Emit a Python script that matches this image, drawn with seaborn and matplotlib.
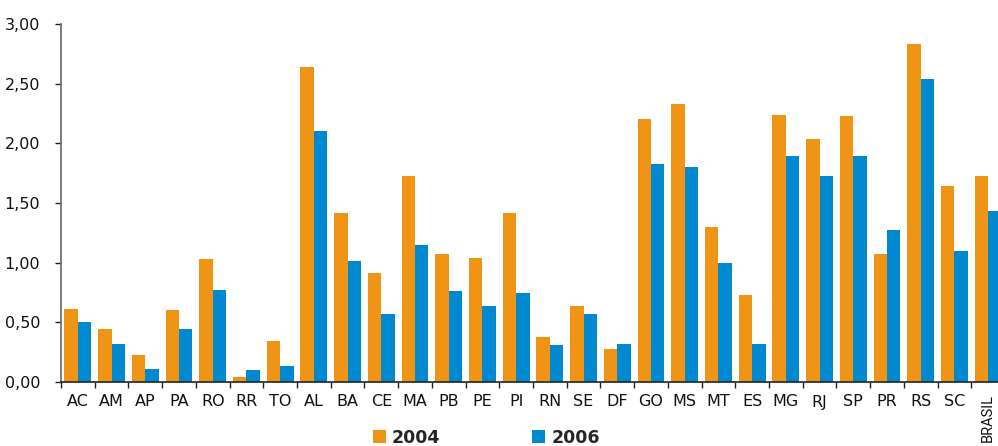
import matplotlib
matplotlib.use("Agg")
import matplotlib.pyplot as plt
from matplotlib.ticker import FixedLocator, FuncFormatter
import pandas as pd
import seaborn as sns

# Unidades da federação e Brasil
ufs = ["AC", "AM", "AP", "PA", "RO", "RR", "TO", "AL", "BA", "CE", "MA", "PB",
       "PE", "PI", "RN", "SE", "DF", "GO", "MS", "MT", "ES", "MG", "RJ", "SP",
       "PR", "RS", "SC", "BRASIL"]
anos = ["2004", "2006"]
valores_2004 = [0.61, 0.44, 0.23, 0.60, 1.03, 0.04, 0.34, 2.64, 1.42, 0.91,
                1.73, 1.07, 1.04, 1.42, 0.38, 0.64, 0.28, 2.20, 2.33, 1.30,
                0.73, 2.24, 2.04, 2.23, 1.07, 2.83, 1.64, 1.73]
valores_2006 = [0.50, 0.32, 0.11, 0.44, 0.77, 0.10, 0.13, 2.10, 1.01, 0.57,
                1.15, 0.76, 0.64, 0.75, 0.31, 0.57, 0.32, 1.83, 1.80, 1.00,
                0.32, 1.89, 1.73, 1.89, 1.27, 2.54, 1.10, 1.43]
y_ticks = [0.0, 0.5, 1.0, 1.5, 2.0, 2.5, 3.0]

cores = {"2004": "#F09416", "2006": "#0089D0"}

df = pd.DataFrame({
    "uf": ufs * 2,
    "ano": [anos[0]] * len(ufs) + [anos[1]] * len(ufs),
    "valor": valores_2004 + valores_2006,
})

sns.set_theme(style="white")
plt.rcParams["font.family"] = ["DejaVu Sans"]

fig = plt.figure(figsize=(9.98, 4.46), dpi=100)
ax = fig.add_axes([61 / 998, 64 / 446, 944 / 998, 358 / 446])

sns.barplot(data=df, x="uf", y="valor", hue="ano", order=ufs,
            hue_order=anos, palette=cores, width=0.8, saturation=1,
            linewidth=0, ax=ax)

ax.set_xlim(-0.5, len(ufs) - 0.5)
ax.set_ylim(0, 3.0)
ax.set_xlabel("")
ax.set_ylabel("")

# Eixo y com vírgula decimal
ax.yaxis.set_major_locator(FixedLocator(y_ticks))
ax.yaxis.set_major_formatter(FuncFormatter(lambda v, _: f"{v:.2f}".replace(".", ",")))
ax.tick_params(axis="y", which="major", direction="out", length=4, width=1,
               color="#222222", pad=11, labelsize=11.5, labelcolor="#111111",
               left=True)

# Marcas do eixo x entre as categorias
ax.xaxis.set_minor_locator(FixedLocator([i - 0.5 for i in range(len(ufs))]))
ax.tick_params(axis="x", which="minor", direction="out", length=4, width=1,
               color="#222222", bottom=True)
ax.tick_params(axis="x", which="major", length=0, pad=9, labelsize=11.5,
               labelcolor="#111111")
for lab in ax.get_xticklabels():
    if lab.get_text() == "BRASIL":
        lab.set_rotation(90)
        lab.set_va("top")
        lab.set_family(["Roboto", "DejaVu Sans"])
        lab.set_fontsize(10.5)

for s in ("top", "right"):
    ax.spines[s].set_visible(False)
ax.spines["left"].set_color("#666666")
ax.spines["left"].set_linewidth(1.2)
ax.spines["bottom"].set_color("#222222")
ax.spines["bottom"].set_linewidth(1.2)

handles, labels = ax.get_legend_handles_labels()
if ax.get_legend() is not None:
    ax.get_legend().remove()
fig.legend(handles, labels, loc="upper left",
           bbox_to_anchor=(364 / 998, 1 - 420 / 446), ncol=2, frameon=False,
           borderpad=0, handlelength=0.75, handleheight=0.75,
           handletextpad=0.35, columnspacing=5.3,
           prop={"weight": "bold", "size": 12.5})

fig.savefig("out.png", dpi=100)
